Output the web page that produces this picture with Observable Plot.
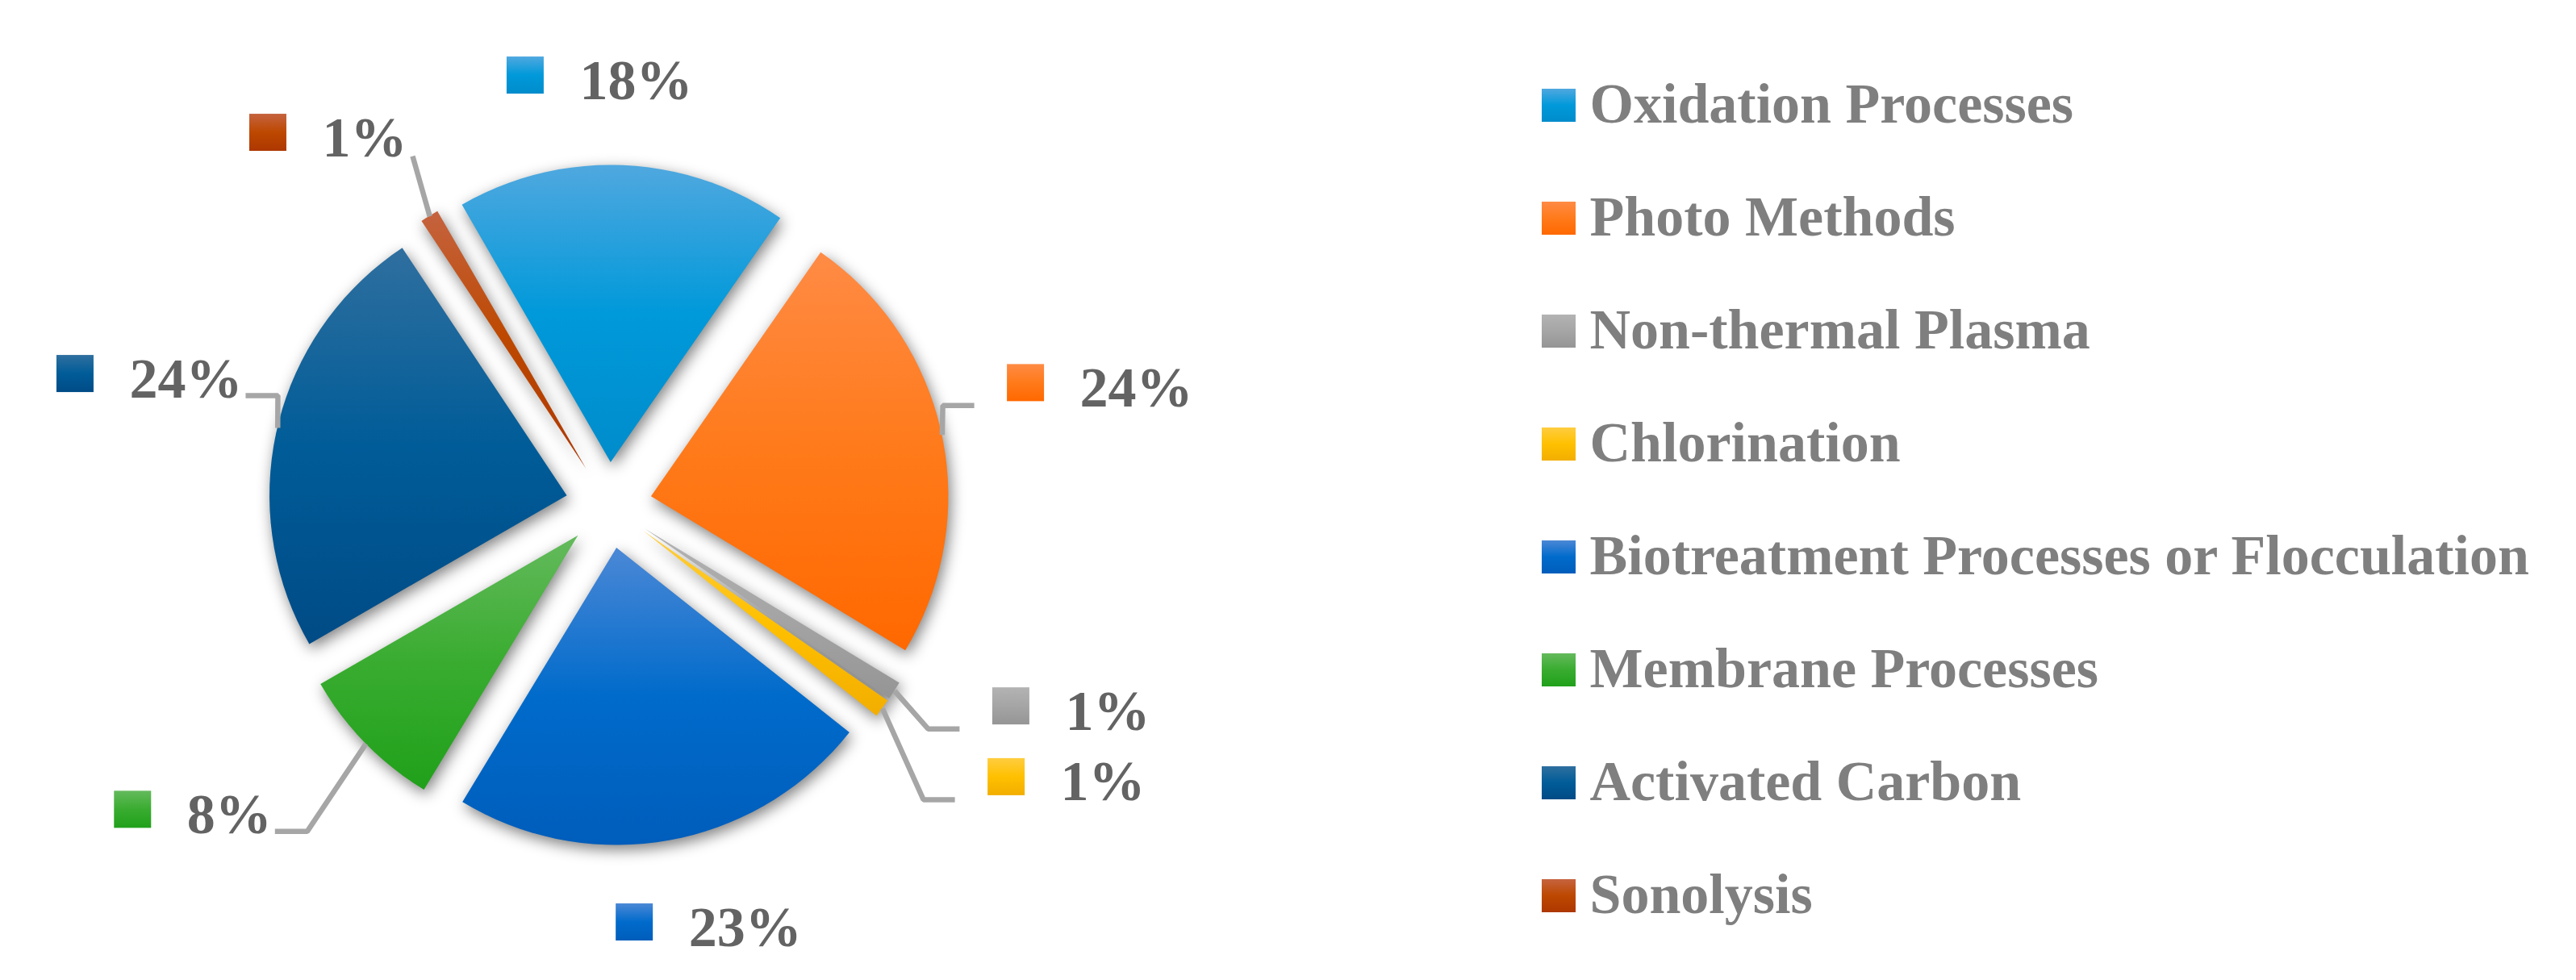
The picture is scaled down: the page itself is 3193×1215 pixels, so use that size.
<!DOCTYPE html>
<html>
<head>
<meta charset="utf-8">
<script src="https://cdn.jsdelivr.net/npm/d3@7"></script>
<script src="https://cdn.jsdelivr.net/npm/@observablehq/plot@0.6"></script>
<style>
  html, body { margin: 0; padding: 0; background: #ffffff; }
  #chart svg { display: block; }
</style>
</head>
<body>
<div id="chart"></div>
<script>
// ---------------- data ----------------
const categories = [
  "Oxidation Processes",
  "Photo Methods",
  "Non-thermal Plasma",
  "Chlorination",
  "Biotreatment Processes or Flocculation",
  "Membrane Processes",
  "Activated Carbon",
  "Sonolysis"
];
const shares = [18, 24, 1, 1, 23, 8, 24, 1];
const percentLabels = ["18%", "24%", "1%", "1%", "23%", "8%", "24%", "1%"];

// ---------------- styles / layout ----------------
const lightColors = ["#50a8df", "#ff8b45", "#b3b3b3", "#ffcd40", "#4b88d6", "#64ba5c", "#2f6f9f", "#c5633f"];
const baseColors  = ["#0099da", "#ff7a1a", "#a5a5a5", "#ffc000", "#006bcb", "#39ac30", "#005c98", "#bd4800"];
const darkColors  = ["#008ccb", "#ff6800", "#959595", "#f2ae00", "#005dbb", "#20a01a", "#004b86", "#ad3700"];

const W = 3193, H = 1215;
const pie = {cx: 754.6, cy: 626.4, r: 368.5, explode: 53.5, startDeg: -30};
// label anchor (square left, text baseline) in polar form around the pie centre:
// [distance, angle offset from the slice mid-angle in degrees]
const labelPolar = [[520, -16.5], [508.6, -2.0], [550.5, -2.7], [595, 1.3], [545.7, 9.3], [735.5, 10.9], [697.7, -2.1], [621.6, -14.0]];
const leaderKind = ["none", "right", "right", "right", "none", "left", "left", "diag"];
const legend = {x: 1911, y0: 151, step: 140, box: 41, textX: 1970};
const labelFont = 70, legendFont = 70;

// ---------------- geometry from data ----------------
const a0 = pie.startDeg * Math.PI / 180;
const arcs = d3.pie().sort(null).value(d => d).startAngle(a0).endAngle(a0 + 2 * Math.PI)(shares);

const slicePts = [];
const sliceInfo = arcs.map((a, i) => {
  const mid = (a.startAngle + a.endAngle) / 2;
  const ox = pie.cx + pie.explode * Math.sin(mid);
  const oy = pie.cy - pie.explode * Math.cos(mid);
  const fill = `url(#g${i})`;
  const deg = (a.endAngle - a.startAngle) * 180 / Math.PI;
  const n = Math.max(4, Math.ceil(deg / 2.5));
  for (let k = 0; k <= n; k++) {
    const t = a.startAngle + (a.endAngle - a.startAngle) * k / n;
    slicePts.push({i, x: ox + pie.r * Math.sin(t), y: oy - pie.r * Math.cos(t), ox, oy, fill});
  }
  return {mid, ox, oy, attachX: ox + pie.r * Math.sin(mid), attachY: oy - pie.r * Math.cos(mid)};
});

const ctx = document.createElement("canvas").getContext("2d");
ctx.font = `bold ${labelFont}px "Liberation Serif"`;

const labelBoxes = [], labelTexts = [], leaderPts = [];
arcs.forEach((a, i) => {
  const info = sliceInfo[i];
  const [dist, dA] = labelPolar[i];
  const ang = info.mid + dA * Math.PI / 180;
  const sx = pie.cx + dist * Math.sin(ang);
  const by = pie.cy - dist * Math.cos(ang);
  labelBoxes.push({x1: sx, x2: sx + 46, y1: by - 52, y2: by - 6, fill: `url(#g${i})`});
  labelTexts.push({x: sx + 90, y: by, t: percentLabels[i]});
  const textEnd = sx + 90 + ctx.measureText(percentLabels[i]).width;
  const kind = leaderKind[i];
  const A = {i, x: info.attachX, y: info.attachY};
  if (kind === "right") {
    leaderPts.push(A, {i, x: sx - 80, y: by - 1}, {i, x: sx - 41, y: by - 1});
  } else if (kind === "left") {
    leaderPts.push(A, {i, x: textEnd + 44, y: by - 2}, {i, x: textEnd + 4, y: by - 2});
  } else if (kind === "diag") {
    leaderPts.push(A, {i, x: textEnd + 7, y: by});
  }
});

const legendBoxes = categories.map((c, i) => ({
  x1: legend.x, x2: legend.x + 42,
  y1: legend.y0 + i * legend.step - legend.box, y2: legend.y0 + i * legend.step,
  fill: `url(#g${i})`
}));
const legendTexts = categories.map((c, i) => ({x: legend.textX, y: legend.y0 + i * legend.step, t: c}));

// ---------------- plot ----------------
const chart = Plot.plot({
  width: W,
  height: H,
  margin: 0,
  style: {background: "#ffffff"},
  x: {domain: [0, W], range: [0, W], axis: null},
  y: {domain: [0, H], range: [0, H], axis: null},
  color: {type: "identity"},
  marks: [
    Plot.area(slicePts, {x1: "x", y1: "y", x2: "ox", y2: "oy", z: "i", fill: "#000000", fillOpacity: 0.5, dx: 3, dy: 6}),
    Plot.area(slicePts, {x1: "x", y1: "y", x2: "ox", y2: "oy", z: "i", fill: "fill"}),
    Plot.line(leaderPts, {x: "x", y: "y", z: "i", stroke: "#a6a6a6", strokeWidth: 6.5, strokeLinecap: "butt", strokeLinejoin: "miter"}),
    Plot.rect(labelBoxes, {x1: "x1", x2: "x2", y1: "y1", y2: "y2", fill: "fill"}),
    Plot.text(labelTexts, {x: "x", y: "y", text: "t", textAnchor: "start", lineAnchor: "bottom",
      fontFamily: "Liberation Serif", fontWeight: "bold", fontSize: labelFont, fill: "#636363"}),
    Plot.rect(legendBoxes, {x1: "x1", x2: "x2", y1: "y1", y2: "y2", fill: "fill"}),
    Plot.text(legendTexts, {x: "x", y: "y", text: "t", textAnchor: "start", lineAnchor: "bottom",
      fontFamily: "Liberation Serif", fontWeight: "bold", fontSize: legendFont, fill: "#7f7f7f"})
  ]
});

// gradients and a soft blur for the shadow layer
const defs = d3.select(chart).insert("defs", ":first-child");
categories.forEach((c, i) => {
  const g = defs.append("linearGradient").attr("id", "g" + i)
    .attr("x1", 0).attr("y1", 0).attr("x2", 0).attr("y2", 1);
  g.append("stop").attr("offset", "0%").attr("stop-color", lightColors[i]);
  g.append("stop").attr("offset", "50%").attr("stop-color", baseColors[i]);
  g.append("stop").attr("offset", "100%").attr("stop-color", darkColors[i]);
});
defs.append("filter").attr("id", "softblur")
  .attr("filterUnits", "userSpaceOnUse").attr("x", 0).attr("y", 0).attr("width", W).attr("height", H)
  .append("feGaussianBlur").attr("stdDeviation", 9);
const groups = Array.from(chart.children).filter(c => c.tagName.toLowerCase() === "g");
if (groups.length) groups[0].setAttribute("filter", "url(#softblur)");
document.getElementById("chart").appendChild(chart);
</script>
</body>
</html>
